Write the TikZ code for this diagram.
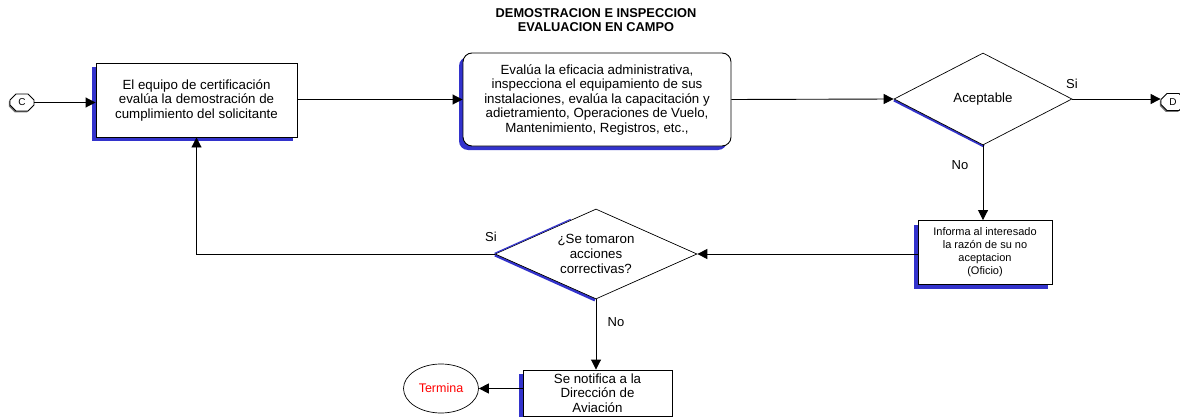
\documentclass[tikz,border=0pt]{standalone}
\usepackage{fontspec}
\setmainfont{Liberation Sans}
\usetikzlibrary{shapes.geometric,shapes.misc,arrows.meta,shadows,calc}
\definecolor{shblue}{RGB}{51,51,204}
\definecolor{termred}{RGB}{255,0,0}
\begin{document}
\begin{tikzpicture}[x=1pt,y=-1pt,
  line/.style={draw=black, line width=0.9pt},
  arr/.style={line, -{Triangle[length=10pt,width=10pt]}},
  bshadow/.style={drop shadow={shadow xshift=-4pt, shadow yshift=-4pt, fill=shblue, opacity=1}},
  box/.style={draw=black, line width=0.9pt, fill=white, inner sep=0pt, align=center,
    font=\fontsize{13.3}{14.5}\selectfont, bshadow},
  smallbox/.style={box, font=\fontsize{11}{13}\selectfont},
  dec/.style={diamond, draw=black, line width=0.7pt, fill=white, inner sep=0pt, align=center,
    font=\fontsize{13.3}{15}\selectfont},
  conn/.style={chamfered rectangle, chamfered rectangle xsep=3pt, chamfered rectangle ysep=3pt,
    draw=black, line width=0.8pt, fill=white, minimum width=24pt, minimum height=17pt, inner sep=0pt,
    font=\fontsize{10}{10}\selectfont,
    drop shadow={shadow xshift=-1.2pt, shadow yshift=-1.5pt, fill=black!55, opacity=1}},
  lbl/.style={font=\fontsize{13}{13}\selectfont, inner sep=0pt},
]
\useasboundingbox (0,0) rectangle (1180,417);
\fill[white] (0,0) rectangle (1180,417);

% title
\node[align=center, font=\bfseries\fontsize{12.8}{14}\selectfont, inner sep=0pt] (title) at (596,20)
  {DEMOSTRACION E INSPECCION\\EVALUACION EN CAMPO};

% connectors
\node[conn] (C) at (22,102.5) {C};
\node[conn] (D) at (1173,102) {D};

% boxes
\node[box, minimum width=201pt, minimum height=74pt] (b1) at (196.5,100)
  {El equipo de certificación\\evalúa la demostración de\\cumplimiento del solicitante};
\node[box, rounded corners=9pt, minimum width=268pt, minimum height=93pt] (b2) at (597,99.5)
  {Evalúa la eficacia administrativa,\\inspecciona el equipamiento de sus\\instalaciones, evalúa la capacitación y\\adietramiento, Operaciones de Vuelo,\\Mantenimiento, Registros, etc.,};
\node[smallbox, minimum width=134pt, minimum height=64pt] (b3) at (985,252.5)
  {Informa al interesado\\la razón de su no\\aceptacion\\(Oficio)};
\node[box, minimum width=149pt, minimum height=46pt] (b4) at (597.5,393)
  {Se notifica a la\\Dirección de\\Aviación};

% decisions: blue shadow edges first
\coordinate (d1w) at (894,99);
\coordinate (d1s) at (984,145);
\draw[shblue, line width=3pt] ([yshift=-1pt]d1w) -- ([yshift=-1pt]d1s);
\node[dec, minimum width=178pt, minimum height=92pt, aspect=1.93] (d1) at (983,99) {Aceptable};

\coordinate (d2w) at (495,254);
\coordinate (d2s) at (595,299);
\draw[shblue, line width=3pt] ([yshift=-1pt]d2w) -- ([yshift=-1pt]d2s);
\node[dec, minimum width=202pt, minimum height=90pt, aspect=2.24] (d2) at (596,254)
  {¿Se tomaron\\acciones\\correctivas?};
\draw[shblue, line width=1.2pt] ([yshift=0.6pt]d2.west) -- ([yshift=0.6pt]$(d2.west)!0.75!(d2.north)$);

% terminator
\node[ellipse, draw=black, line width=0.7pt, minimum width=75pt, minimum height=49pt, inner sep=0pt,
  text=termred, font=\fontsize{12.5}{12.5}\selectfont] (end) at (441,388.5) {Termina};

% connectors
\draw[arr] (C.east) -- (C.east -| b1.west);
\draw[arr] (b1.east |- b2.west) -- (b2.west);
\draw[arr] (b2.east) -- (d1.west);
\draw[arr] (d1.east) -- (d1.east -| D.west);
\draw[arr] (d1.south) -- (d1.south |- b3.north);
\draw[arr] (b3.west |- d2.east) -- (d2.east);
\draw[arr] (d2.west) -| (b1.south);
\draw[arr] (d2.south) -- (d2.south |- b4.north);
\draw[arr] (b4.west |- end.east) -- (end.east);

% labels
\node[lbl] (si1) at (1072,84) {Si};
\node[lbl] (no1) at (960,165) {No};
\node[lbl] (si2) at (491,237) {Si};
\node[lbl] (no2) at (616,322) {No};
\end{tikzpicture}
\end{document}
